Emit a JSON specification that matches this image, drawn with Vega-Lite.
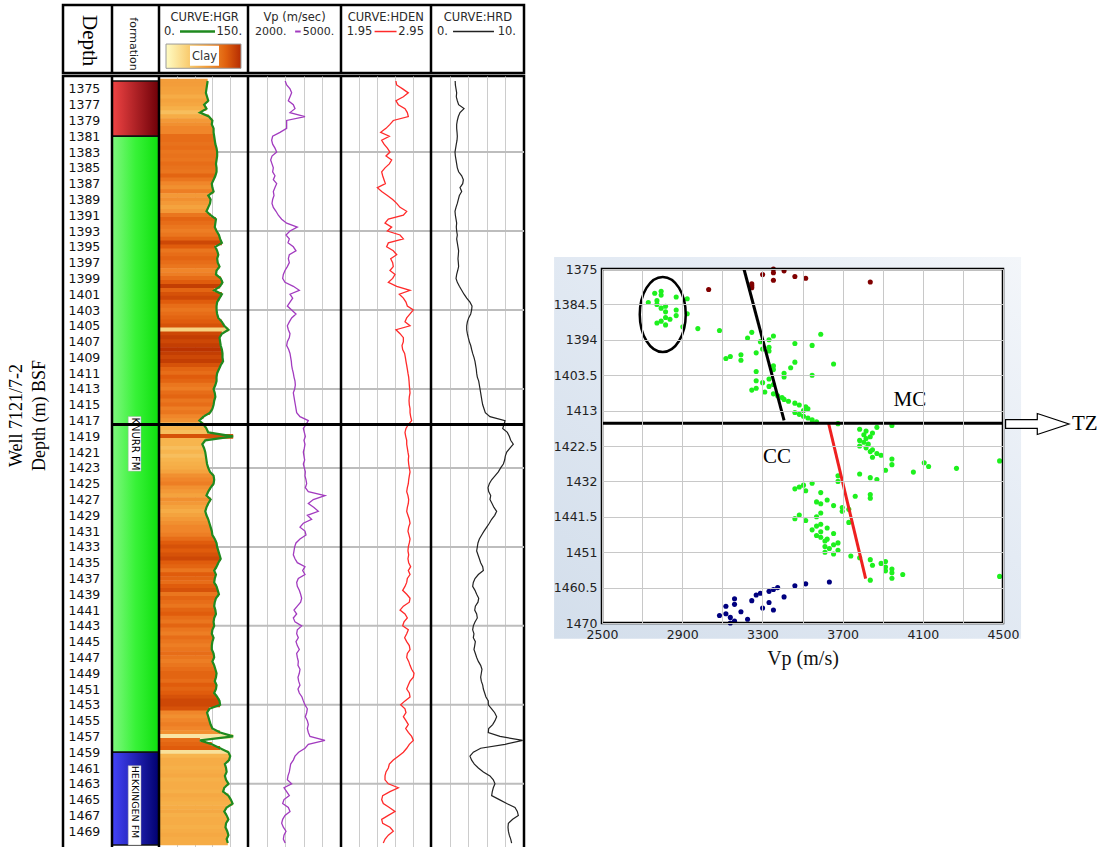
{
"$schema": "https://vega.github.io/schema/vega-lite/v6.json",
"padding": {"left": 5, "top": 2, "right": 0, "bottom": 0},
"autosize": {"type": "pad"},
"background": "white",
"spacing": 26,
"config": {"view": {"stroke": "black", "strokeWidth": 2.5}, "text": {"font": "DejaVu Sans"}, "axis": {"labelFont": "DejaVu Sans", "minExtent": 0}},
"datasets": {
"fm": [{"f":"a","top":1374,"base":1381},{"f":"k","top":1381,"base":1459},{"f":"h","top":1459,"base":1470.75}],
"gl": [{"y":1383},{"y":1393},{"y":1403},{"y":1413},{"y":1423},{"y":1433},{"y":1443},{"y":1453},{"y":1463}],
"logs": [
{"d":1374,"g":82,"v":3200,"n":2.56,"r":2.6,"c":0.38},
{"d":1374.5,"g":81,"v":3247,"n":2.568,"r":2.62,"c":0.38},
{"d":1375,"g":80,"v":3355,"n":2.635,"r":2.69,"c":0.36},
{"d":1375.5,"g":79,"v":3408,"n":2.698,"r":2.76,"c":0.35},
{"d":1376,"g":81,"v":3355,"n":2.643,"r":2.72,"c":0.3},
{"d":1376.5,"g":83,"v":3301,"n":2.561,"r":2.83,"c":0.35},
{"d":1377,"g":76,"v":3462,"n":2.587,"r":2.97,"c":0.33},
{"d":1377.5,"g":80,"v":3516,"n":2.661,"r":3.55,"c":0.28},
{"d":1378,"g":69,"v":3355,"n":2.687,"r":3.12,"c":0.22},
{"d":1378.5,"g":84,"v":3838,"n":2.698,"r":2.94,"c":0.3},
{"d":1379,"g":90,"v":3247,"n":2.531,"r":2.83,"c":0.4},
{"d":1379.5,"g":89,"v":3247,"n":2.494,"r":2.76,"c":0.45},
{"d":1380,"g":92,"v":3247,"n":2.45,"r":2.76,"c":0.5},
{"d":1380.5,"g":92,"v":3032,"n":2.391,"r":2.8,"c":0.5},
{"d":1381,"g":93,"v":2795,"n":2.487,"r":2.83,"c":0.65},
{"d":1381.5,"g":94,"v":2763,"n":2.402,"r":2.8,"c":0.65},
{"d":1382,"g":95,"v":2795,"n":2.428,"r":2.72,"c":0.62},
{"d":1382.5,"g":97,"v":2870,"n":2.465,"r":2.65,"c":0.65},
{"d":1383,"g":98,"v":2925,"n":2.494,"r":2.58,"c":0.6},
{"d":1383.5,"g":98,"v":2774,"n":2.45,"r":2.62,"c":0.62},
{"d":1384,"g":97,"v":2731,"n":2.513,"r":2.69,"c":0.6},
{"d":1384.5,"g":96,"v":2774,"n":2.487,"r":2.76,"c":0.65},
{"d":1385,"g":97,"v":2817,"n":2.439,"r":2.83,"c":0.62},
{"d":1385.5,"g":97,"v":2795,"n":2.402,"r":2.97,"c":0.6},
{"d":1386,"g":95,"v":2870,"n":2.413,"r":3.3,"c":0.7},
{"d":1386.5,"g":92,"v":2817,"n":2.428,"r":3.48,"c":0.6},
{"d":1387,"g":89,"v":2925,"n":2.443,"r":3.41,"c":0.5},
{"d":1387.5,"g":90,"v":2870,"n":2.354,"r":3.12,"c":0.45},
{"d":1388,"g":92,"v":2817,"n":2.402,"r":3.3,"c":0.55},
{"d":1388.5,"g":83,"v":2839,"n":2.465,"r":3.05,"c":0.4},
{"d":1389,"g":87,"v":2795,"n":2.524,"r":2.94,"c":0.45},
{"d":1389.5,"g":86,"v":2774,"n":2.569,"r":2.83,"c":0.4},
{"d":1390,"g":83,"v":2817,"n":2.606,"r":2.69,"c":0.35},
{"d":1390.5,"g":80,"v":2903,"n":2.68,"r":2.58,"c":0.4},
{"d":1391,"g":87,"v":2978,"n":2.643,"r":2.62,"c":0.6},
{"d":1391.5,"g":96,"v":3086,"n":2.476,"r":2.69,"c":0.7},
{"d":1392,"g":95,"v":3247,"n":2.439,"r":2.76,"c":0.65},
{"d":1392.5,"g":94,"v":3591,"n":2.513,"r":2.72,"c":0.6},
{"d":1393,"g":97,"v":3355,"n":2.465,"r":2.76,"c":0.55},
{"d":1393.5,"g":101,"v":3226,"n":2.606,"r":2.83,"c":0.6},
{"d":1394,"g":103,"v":3333,"n":2.643,"r":2.76,"c":0.7},
{"d":1394.5,"g":106,"v":3290,"n":2.476,"r":2.83,"c":0.85},
{"d":1395,"g":95,"v":3462,"n":2.457,"r":2.9,"c":0.75},
{"d":1395.5,"g":98,"v":3548,"n":2.531,"r":2.97,"c":0.6},
{"d":1396,"g":100,"v":3333,"n":2.569,"r":2.94,"c":0.65},
{"d":1396.5,"g":98,"v":3301,"n":2.502,"r":2.9,"c":0.7},
{"d":1397,"g":99,"v":3333,"n":2.524,"r":2.94,"c":0.65},
{"d":1397.5,"g":102,"v":3269,"n":2.531,"r":2.97,"c":0.6},
{"d":1398,"g":97,"v":3193,"n":2.494,"r":2.87,"c":0.5},
{"d":1398.5,"g":96,"v":3140,"n":2.55,"r":2.76,"c":0.55},
{"d":1399,"g":104,"v":3118,"n":2.524,"r":2.69,"c":0.65},
{"d":1399.5,"g":107,"v":3193,"n":2.476,"r":2.83,"c":0.75},
{"d":1400,"g":103,"v":3462,"n":2.569,"r":3.05,"c":0.9},
{"d":1400.5,"g":93,"v":3655,"n":2.717,"r":3.3,"c":0.7},
{"d":1401,"g":106,"v":3355,"n":2.598,"r":3.55,"c":0.8},
{"d":1401.5,"g":102,"v":3441,"n":2.643,"r":3.84,"c":0.85},
{"d":1402,"g":98,"v":3355,"n":2.672,"r":4.19,"c":0.75},
{"d":1402.5,"g":97,"v":3269,"n":2.687,"r":4.41,"c":0.65},
{"d":1403,"g":97,"v":3408,"n":2.754,"r":4.37,"c":0.6},
{"d":1403.5,"g":98,"v":3548,"n":2.717,"r":4.27,"c":0.65},
{"d":1404,"g":100,"v":3408,"n":2.68,"r":4.05,"c":0.7},
{"d":1404.5,"g":106,"v":3333,"n":2.661,"r":3.91,"c":0.75},
{"d":1405,"g":110,"v":3269,"n":2.717,"r":3.84,"c":0.8},
{"d":1405.5,"g":117,"v":3301,"n":2.561,"r":3.84,"c":0.15},
{"d":1406,"g":106,"v":3355,"n":2.606,"r":3.91,"c":0.85},
{"d":1406.5,"g":102,"v":3333,"n":2.643,"r":4.01,"c":0.9},
{"d":1407,"g":103,"v":3269,"n":2.643,"r":4.12,"c":0.85},
{"d":1407.5,"g":104,"v":3247,"n":2.628,"r":4.27,"c":0.9},
{"d":1408,"g":106,"v":3312,"n":2.635,"r":4.37,"c":0.95},
{"d":1408.5,"g":107,"v":3355,"n":2.657,"r":4.48,"c":0.9},
{"d":1409,"g":107,"v":3376,"n":2.665,"r":4.62,"c":0.85},
{"d":1409.5,"g":108,"v":3398,"n":2.672,"r":4.73,"c":0.9},
{"d":1410,"g":104,"v":3408,"n":2.68,"r":4.8,"c":0.8},
{"d":1410.5,"g":101,"v":3430,"n":2.687,"r":4.87,"c":0.7},
{"d":1411,"g":98,"v":3462,"n":2.694,"r":4.91,"c":0.65},
{"d":1411.5,"g":97,"v":3484,"n":2.702,"r":4.98,"c":0.75},
{"d":1412,"g":97,"v":3516,"n":2.706,"r":5.13,"c":0.7},
{"d":1412.5,"g":95,"v":3527,"n":2.709,"r":5.2,"c":0.6},
{"d":1413,"g":92,"v":3505,"n":2.713,"r":5.27,"c":0.55},
{"d":1413.5,"g":94,"v":3462,"n":2.717,"r":5.34,"c":0.65},
{"d":1414,"g":95,"v":3484,"n":2.709,"r":5.41,"c":0.7},
{"d":1414.5,"g":93,"v":3505,"n":2.706,"r":5.48,"c":0.6},
{"d":1415,"g":92,"v":3527,"n":2.709,"r":5.56,"c":0.65},
{"d":1415.5,"g":90,"v":3548,"n":2.717,"r":5.7,"c":0.55},
{"d":1416,"g":86,"v":3570,"n":2.717,"r":5.84,"c":0.6},
{"d":1416.5,"g":75,"v":3677,"n":2.724,"r":6.34,"c":0.5},
{"d":1417,"g":68,"v":3946,"n":2.735,"r":7.96,"c":0.45},
{"d":1417.5,"g":75,"v":3871,"n":2.698,"r":7.85,"c":0.3},
{"d":1418,"g":80,"v":3785,"n":2.672,"r":7.71,"c":0.25},
{"d":1418.5,"g":83,"v":3817,"n":2.661,"r":8.21,"c":0.22},
{"d":1419,"g":125,"v":3849,"n":2.669,"r":8.42,"c":0.8},
{"d":1419.5,"g":78,"v":3806,"n":2.68,"r":8.57,"c":0.25},
{"d":1420,"g":73,"v":3838,"n":2.68,"r":8.85,"c":0.25},
{"d":1420.5,"g":76,"v":3817,"n":2.687,"r":8.49,"c":0.22},
{"d":1421,"g":78,"v":3785,"n":2.694,"r":8.14,"c":0.25},
{"d":1421.5,"g":79,"v":3806,"n":2.702,"r":7.99,"c":0.22},
{"d":1422,"g":80,"v":3828,"n":2.698,"r":7.92,"c":0.25},
{"d":1422.5,"g":81,"v":3785,"n":2.702,"r":7.78,"c":0.28},
{"d":1423,"g":83,"v":3817,"n":2.709,"r":7.49,"c":0.3},
{"d":1423.5,"g":86,"v":3849,"n":2.717,"r":7.24,"c":0.35},
{"d":1424,"g":92,"v":3838,"n":2.709,"r":6.88,"c":0.45},
{"d":1424.5,"g":93,"v":3871,"n":2.702,"r":6.52,"c":0.5},
{"d":1425,"g":92,"v":3892,"n":2.698,"r":6.27,"c":0.55},
{"d":1425.5,"g":87,"v":3849,"n":2.687,"r":6.13,"c":0.45},
{"d":1426,"g":83,"v":3946,"n":2.68,"r":6.2,"c":0.4},
{"d":1426.5,"g":80,"v":4483,"n":2.694,"r":6.42,"c":0.35},
{"d":1427,"g":87,"v":4107,"n":2.702,"r":6.34,"c":0.45},
{"d":1427.5,"g":83,"v":3946,"n":2.698,"r":6.56,"c":0.4},
{"d":1428,"g":80,"v":4129,"n":2.687,"r":6.77,"c":0.35},
{"d":1428.5,"g":78,"v":4268,"n":2.68,"r":7.06,"c":0.3},
{"d":1429,"g":80,"v":3914,"n":2.694,"r":6.85,"c":0.35},
{"d":1429.5,"g":83,"v":4053,"n":2.709,"r":6.52,"c":0.4},
{"d":1430,"g":85,"v":3785,"n":2.717,"r":6.27,"c":0.45},
{"d":1430.5,"g":87,"v":3677,"n":2.702,"r":5.99,"c":0.5},
{"d":1431,"g":89,"v":3838,"n":2.694,"r":5.7,"c":0.5},
{"d":1431.5,"g":90,"v":3871,"n":2.706,"r":5.45,"c":0.55},
{"d":1432,"g":94,"v":3677,"n":2.717,"r":5.2,"c":0.65},
{"d":1432.5,"g":97,"v":3548,"n":2.709,"r":5.05,"c":0.75},
{"d":1433,"g":98,"v":3505,"n":2.698,"r":4.98,"c":0.8},
{"d":1433.5,"g":100,"v":3484,"n":2.694,"r":4.91,"c":0.75},
{"d":1434,"g":102,"v":3462,"n":2.702,"r":5.05,"c":0.8},
{"d":1434.5,"g":104,"v":3516,"n":2.694,"r":5.2,"c":0.85},
{"d":1435,"g":100,"v":3591,"n":2.702,"r":5.34,"c":0.75},
{"d":1435.5,"g":97,"v":3838,"n":2.724,"r":5.56,"c":0.7},
{"d":1436,"g":93,"v":3763,"n":2.698,"r":5.63,"c":0.6},
{"d":1436.5,"g":96,"v":3838,"n":2.717,"r":5.09,"c":0.75},
{"d":1437,"g":94,"v":3623,"n":2.687,"r":4.73,"c":0.7},
{"d":1437.5,"g":93,"v":3570,"n":2.68,"r":4.55,"c":0.65},
{"d":1438,"g":97,"v":3591,"n":2.661,"r":4.48,"c":0.75},
{"d":1438.5,"g":99,"v":3655,"n":2.635,"r":4.73,"c":0.8},
{"d":1439,"g":101,"v":3698,"n":2.68,"r":4.91,"c":0.6},
{"d":1439.5,"g":96,"v":3731,"n":2.717,"r":5.13,"c":0.7},
{"d":1440,"g":94,"v":3698,"n":2.709,"r":5.05,"c":0.65},
{"d":1440.5,"g":93,"v":3591,"n":2.643,"r":4.77,"c":0.6},
{"d":1441,"g":95,"v":3484,"n":2.606,"r":4.7,"c":0.7},
{"d":1441.5,"g":96,"v":3570,"n":2.661,"r":4.91,"c":0.75},
{"d":1442,"g":93,"v":3462,"n":2.687,"r":4.98,"c":0.65},
{"d":1442.5,"g":92,"v":3516,"n":2.65,"r":4.73,"c":0.6},
{"d":1443,"g":93,"v":3731,"n":2.635,"r":4.55,"c":0.7},
{"d":1443.5,"g":90,"v":3591,"n":2.698,"r":4.48,"c":0.6},
{"d":1444,"g":89,"v":3570,"n":2.68,"r":4.62,"c":0.55},
{"d":1444.5,"g":92,"v":3623,"n":2.657,"r":4.55,"c":0.65},
{"d":1445,"g":90,"v":3548,"n":2.68,"r":4.77,"c":0.6},
{"d":1445.5,"g":89,"v":3591,"n":2.709,"r":4.7,"c":0.55},
{"d":1446,"g":89,"v":3655,"n":2.717,"r":4.62,"c":0.6},
{"d":1446.5,"g":92,"v":3570,"n":2.687,"r":4.77,"c":0.65},
{"d":1447,"g":93,"v":3591,"n":2.68,"r":4.91,"c":0.6},
{"d":1447.5,"g":90,"v":3623,"n":2.702,"r":5.09,"c":0.55},
{"d":1448,"g":93,"v":3612,"n":2.717,"r":5.34,"c":0.6},
{"d":1448.5,"g":95,"v":3677,"n":2.735,"r":5.48,"c":0.65},
{"d":1449,"g":97,"v":3655,"n":2.761,"r":5.41,"c":0.7},
{"d":1449.5,"g":96,"v":3612,"n":2.754,"r":5.34,"c":0.7},
{"d":1450,"g":94,"v":3634,"n":2.717,"r":5.41,"c":0.65},
{"d":1450.5,"g":97,"v":3677,"n":2.698,"r":5.56,"c":0.75},
{"d":1451,"g":96,"v":3612,"n":2.68,"r":5.63,"c":0.7},
{"d":1451.5,"g":93,"v":3655,"n":2.709,"r":5.77,"c":0.75},
{"d":1452,"g":98,"v":3741,"n":2.717,"r":5.91,"c":0.8},
{"d":1452.5,"g":102,"v":3785,"n":2.661,"r":6.16,"c":0.85},
{"d":1453,"g":103,"v":3838,"n":2.613,"r":6.16,"c":0.85},
{"d":1453.5,"g":85,"v":3914,"n":2.661,"r":6.52,"c":0.8},
{"d":1454,"g":81,"v":3892,"n":2.672,"r":6.85,"c":0.5},
{"d":1454.5,"g":83,"v":3849,"n":2.643,"r":7.06,"c":0.45},
{"d":1455,"g":85,"v":3914,"n":2.672,"r":6.88,"c":0.5},
{"d":1455.5,"g":87,"v":3946,"n":2.698,"r":6.63,"c":0.55},
{"d":1456,"g":90,"v":3914,"n":2.669,"r":6.2,"c":0.5},
{"d":1456.5,"g":103,"v":3946,"n":2.698,"r":6.16,"c":0.45},
{"d":1457,"g":125,"v":4000,"n":2.735,"r":7.42,"c":0.08},
{"d":1457.5,"g":69,"v":4483,"n":2.754,"r":9.86,"c":0.65},
{"d":1458,"g":89,"v":3946,"n":2.709,"r":7.96,"c":0.7},
{"d":1458.5,"g":103,"v":3838,"n":2.68,"r":5.34,"c":0.75},
{"d":1459,"g":117,"v":3634,"n":2.643,"r":4.55,"c":0.1},
{"d":1459.5,"g":120,"v":3516,"n":2.587,"r":4.19,"c":0.25},
{"d":1460,"g":118,"v":3462,"n":2.531,"r":4.37,"c":0.3},
{"d":1460.5,"g":111,"v":3376,"n":2.487,"r":4.66,"c":0.3},
{"d":1461,"g":113,"v":3355,"n":2.476,"r":5.09,"c":0.28},
{"d":1461.5,"g":114,"v":3333,"n":2.45,"r":5.63,"c":0.3},
{"d":1462,"g":111,"v":3290,"n":2.439,"r":6.34,"c":0.32},
{"d":1462.5,"g":113,"v":3269,"n":2.439,"r":6.7,"c":0.28},
{"d":1463,"g":117,"v":3408,"n":2.476,"r":6.88,"c":0.3},
{"d":1463.5,"g":110,"v":3161,"n":2.587,"r":6.7,"c":0.3},
{"d":1464,"g":108,"v":3247,"n":2.494,"r":6.59,"c":0.28},
{"d":1464.5,"g":117,"v":3333,"n":2.413,"r":6.52,"c":0.32},
{"d":1465,"g":121,"v":3161,"n":2.402,"r":7.35,"c":0.3},
{"d":1465.5,"g":124,"v":3118,"n":2.42,"r":8.14,"c":0.28},
{"d":1466,"g":114,"v":3301,"n":2.487,"r":9.03,"c":0.3},
{"d":1466.5,"g":110,"v":3355,"n":2.55,"r":9.28,"c":0.32},
{"d":1467,"g":114,"v":3193,"n":2.476,"r":9.39,"c":0.28},
{"d":1467.5,"g":117,"v":3118,"n":2.402,"r":8.78,"c":0.3},
{"d":1468,"g":113,"v":3086,"n":2.413,"r":8.32,"c":0.3},
{"d":1468.5,"g":112,"v":3140,"n":2.494,"r":8.28,"c":0.28},
{"d":1469,"g":115,"v":3226,"n":2.531,"r":8.32,"c":0.3},
{"d":1469.5,"g":117,"v":3161,"n":2.476,"r":8.42,"c":0.32},
{"d":1470,"g":114,"v":3140,"n":2.44,"r":8.57,"c":0.3},
{"d":1470.5,"g":116,"v":3200,"n":2.42,"r":8.67,"c":0.3}
]
},
"hconcat": [
{
"spacing": -9,
"vconcat": [
{"width": 461, "height": 68, "data": {"values": [{}]},
 "resolve": {"scale": {"x": "independent"}, "axis": {"x": "independent"}},
 "layer": [
  {"mark": {"type": "text", "text": "Depth", "angle": 90, "font": "Liberation Serif", "fontSize": 21, "color": "#000"},
   "encoding": {"x": {"datum": 0.53, "type": "quantitative", "scale": {"domain": [0, 1], "range": [0, 49]}, "axis": null}, "y": {"datum": 5.25, "type": "quantitative", "scale": {"domain": [0, 10], "reverse": true}, "axis": null}}},
  {"layer": [
    {"mark": {"type": "text", "text": "formation", "angle": 90, "fontSize": 11, "color": "#222"},
     "encoding": {"x": {"datum": 0.45, "type": "quantitative", "scale": {"domain": [0, 1], "range": [49, 96]}, "axis": null}, "y": {"datum": 5.74, "axis": null}}},
    {"mark": {"type": "rule", "color": "black", "strokeWidth": 2.5}, "encoding": {"x": {"datum": 0, "axis": null}}}
  ]},
  {"layer": [
    {"mark": {"type": "text", "text": "CURVE:HGR", "fontSize": 11.5, "color": "#2a2a2a"},
     "encoding": {"x": {"datum": 77, "type": "quantitative", "scale": {"domain": [0, 150], "range": [96, 185], "nice": false, "zero": false}, "axis": null}, "y": {"datum": 1.9, "axis": null}}},
    {"mark": {"type": "text", "text": "0.", "align": "left", "fontSize": 11.5, "color": "#2a2a2a"},
     "encoding": {"x": {"datum": 8.4, "axis": null}, "y": {"datum": 3.9, "axis": null}}},
    {"mark": {"type": "text", "text": "150.", "align": "right", "fontSize": 11.5, "color": "#2a2a2a"},
     "encoding": {"x": {"datum": 140, "axis": null}, "y": {"datum": 3.9, "axis": null}}},
    {"mark": {"type": "rule", "color": "#1f8a1f", "strokeWidth": 2.5},
     "encoding": {"x": {"datum": 35.4, "axis": null}, "x2": {"datum": 94.4}, "y": {"datum": 3.9, "axis": null}}},
    {"mark": {"type": "rect", "stroke": "#9a9a9a", "strokeWidth": 1, "color": {"gradient": "linear", "stops": [{"offset": 0, "color": "#fffcc4"}, {"offset": 0.3, "color": "#f9cd72"}, {"offset": 0.55, "color": "#f39a34"}, {"offset": 0.8, "color": "#e0600e"}, {"offset": 1, "color": "#b52c02"}]}},
     "encoding": {"x": {"datum": 11.8, "axis": null}, "x2": {"datum": 138.2}, "y": {"datum": 5.74, "axis": null}, "y2": {"datum": 9.31}}},
    {"mark": {"type": "rect", "color": "white"},
     "encoding": {"x": {"datum": 52.2, "axis": null}, "x2": {"datum": 101.1}, "y": {"datum": 5.98, "axis": null}, "y2": {"datum": 8.93}}},
    {"mark": {"type": "text", "text": "Clay", "fontSize": 11.5, "color": "#333"},
     "encoding": {"x": {"datum": 76.6, "axis": null}, "y": {"datum": 7.6, "axis": null}}},
    {"mark": {"type": "rule", "color": "black", "strokeWidth": 2.5}, "encoding": {"x": {"datum": 0, "axis": null}}}
  ]},
  {"layer": [
    {"mark": {"type": "text", "text": "Vp (m/sec)", "fontSize": 11.5, "color": "#2a2a2a"},
     "encoding": {"x": {"datum": 3500, "type": "quantitative", "scale": {"domain": [2000, 5000], "range": [185, 278], "nice": false, "zero": false}, "axis": null}, "y": {"datum": 1.9, "axis": null}}},
    {"mark": {"type": "text", "text": "2000.", "align": "left", "fontSize": 11, "color": "#2a2a2a"},
     "encoding": {"x": {"datum": 2226, "axis": null}, "y": {"datum": 3.9, "axis": null}}},
    {"mark": {"type": "text", "text": "5000.", "align": "right", "fontSize": 11, "color": "#2a2a2a"},
     "encoding": {"x": {"datum": 4780, "axis": null}, "y": {"datum": 3.9, "axis": null}}},
    {"mark": {"type": "rule", "color": "#a23bbf", "strokeWidth": 2},
     "encoding": {"x": {"datum": 3520, "axis": null}, "x2": {"datum": 3700}, "y": {"datum": 3.9, "axis": null}}},
    {"mark": {"type": "rule", "color": "black", "strokeWidth": 2.5}, "encoding": {"x": {"datum": 2000, "axis": null}}}
  ]},
  {"layer": [
    {"mark": {"type": "text", "text": "CURVE:HDEN", "fontSize": 11.5, "color": "#2a2a2a"},
     "encoding": {"x": {"datum": 2.447, "type": "quantitative", "scale": {"domain": [1.95, 2.95], "range": [278, 368], "nice": false, "zero": false}, "axis": null}, "y": {"datum": 1.9, "axis": null}}},
    {"mark": {"type": "text", "text": "1.95", "align": "left", "fontSize": 11.5, "color": "#2a2a2a"},
     "encoding": {"x": {"datum": 2.013, "axis": null}, "y": {"datum": 3.9, "axis": null}}},
    {"mark": {"type": "text", "text": "2.95", "align": "right", "fontSize": 11.5, "color": "#2a2a2a"},
     "encoding": {"x": {"datum": 2.872, "axis": null}, "y": {"datum": 3.9, "axis": null}}},
    {"mark": {"type": "rule", "color": "#ff2a2a", "strokeWidth": 1.5},
     "encoding": {"x": {"datum": 2.323, "axis": null}, "x2": {"datum": 2.567}, "y": {"datum": 3.9, "axis": null}}},
    {"mark": {"type": "rule", "color": "black", "strokeWidth": 2.5}, "encoding": {"x": {"datum": 1.95, "axis": null}}}
  ]},
  {"layer": [
    {"mark": {"type": "text", "text": "CURVE:HRD", "fontSize": 11.5, "color": "#2a2a2a"},
     "encoding": {"x": {"datum": 5.05, "type": "quantitative", "scale": {"domain": [0, 10], "range": [368, 461], "nice": false, "zero": false}, "axis": null}, "y": {"datum": 1.9, "axis": null}}},
    {"mark": {"type": "text", "text": "0.", "align": "left", "fontSize": 11.5, "color": "#2a2a2a"},
     "encoding": {"x": {"datum": 0.65, "axis": null}, "y": {"datum": 3.9, "axis": null}}},
    {"mark": {"type": "text", "text": "10.", "align": "right", "fontSize": 11.5, "color": "#2a2a2a"},
     "encoding": {"x": {"datum": 9.14, "axis": null}, "y": {"datum": 3.9, "axis": null}}},
    {"mark": {"type": "rule", "color": "#222", "strokeWidth": 1.5},
     "encoding": {"x": {"datum": 2.37, "axis": null}, "x2": {"datum": 6.77}, "y": {"datum": 3.9, "axis": null}}},
    {"mark": {"type": "rule", "color": "black", "strokeWidth": 2.5}, "encoding": {"x": {"datum": 0, "axis": null}}}
  ]}
 ]},
{"width": 461, "height": 774,
 "resolve": {"scale": {"x": "independent"}, "axis": {"x": "independent"}},
 "layer": [
  {"data": {"name": "logs"}, "mark": {"type": "point", "opacity": 0},
   "encoding": {"y": {"field": "d", "type": "quantitative", "scale": {"domain": [1374, 1470.75], "reverse": true, "nice": false, "zero": false},
     "axis": {"values": [1375,1377,1379,1381,1383,1385,1387,1389,1391,1393,1395,1397,1399,1401,1403,1405,1407,1409,1411,1413,1415,1417,1419,1421,1423,1425,1427,1429,1431,1433,1435,1437,1439,1441,1443,1445,1447,1449,1451,1453,1455,1457,1459,1461,1463,1465,1467,1469],
       "tickCount": 100, "format": "d", "orient": "left", "labelAlign": "left", "labelBaseline": "middle", "labelPadding": -5, "tickSize": 0, "ticks": false, "domain": false, "grid": false,
       "labelFontSize": 12.5, "labelColor": "#111", "labelOverlap": false, "labelBound": false,
       "title": ["Well 7121/7-2", "Depth (m) BSF"], "titleFont": "Liberation Serif", "titleFontSize": 18, "titleFontWeight": "normal", "titleColor": "#000",
       "titlePadding": 15, "titleLineHeight": 23, "minExtent": 0, "maxExtent": 0, "titleY": 339}}}},
  {"layer": [
    {"data": {"name": "fm"}, "transform": [{"filter": "datum.f == 'a'"}],
     "mark": {"type": "rect", "stroke": "#111", "strokeWidth": 1.5, "color": {"gradient": "linear", "stops": [{"offset": 0, "color": "#f04444"}, {"offset": 1, "color": "#6e0008"}]}},
     "encoding": {"y": {"field": "top", "type": "quantitative"}, "y2": {"field": "base"},
       "x": {"datum": 0, "type": "quantitative", "scale": {"domain": [0, 1], "range": [49, 96]}, "axis": null}, "x2": {"datum": 1}}},
    {"data": {"name": "fm"}, "transform": [{"filter": "datum.f == 'k'"}],
     "mark": {"type": "rect", "stroke": "#111", "strokeWidth": 1.5, "color": {"gradient": "linear", "stops": [{"offset": 0, "color": "#80f880"}, {"offset": 0.5, "color": "#38f238"}, {"offset": 1, "color": "#0ee00e"}]}},
     "encoding": {"y": {"field": "top", "type": "quantitative"}, "y2": {"field": "base"}, "x": {"datum": 0, "axis": null}, "x2": {"datum": 1}}},
    {"data": {"name": "fm"}, "transform": [{"filter": "datum.f == 'h'"}],
     "mark": {"type": "rect", "stroke": "#111", "strokeWidth": 1.5, "color": {"gradient": "linear", "stops": [{"offset": 0, "color": "#4444f8"}, {"offset": 1, "color": "#00006e"}]}},
     "encoding": {"y": {"field": "top", "type": "quantitative"}, "y2": {"field": "base"}, "x": {"datum": 0, "axis": null}, "x2": {"datum": 1}}},
    {"data": {"values": [{}]}, "mark": {"type": "rect", "color": "white", "stroke": "#aaa", "strokeWidth": 0.5},
     "encoding": {"x": {"datum": 0.345, "axis": null}, "x2": {"datum": 0.617}, "y": {"datum": 1416.5}, "y2": {"datum": 1423.4}}},
    {"data": {"values": [{}]}, "mark": {"type": "text", "text": "KNURR FM", "angle": 90, "fontSize": 10, "color": "#000"},
     "encoding": {"x": {"datum": 0.48, "axis": null}, "y": {"datum": 1419.95}}},
    {"data": {"values": [{}]}, "mark": {"type": "rect", "color": "white", "stroke": "#aaa", "strokeWidth": 0.5},
     "encoding": {"x": {"datum": 0.345, "axis": null}, "x2": {"datum": 0.617}, "y": {"datum": 1460.7}, "y2": {"datum": 1470.75}}},
    {"data": {"values": [{}]}, "mark": {"type": "text", "text": "HEKKINGEN FM", "angle": 90, "fontSize": 9.5, "color": "#000"},
     "encoding": {"x": {"datum": 0.48, "axis": null}, "y": {"datum": 1465.3}}},
    {"data": {"values": [{}]}, "mark": {"type": "rule", "color": "black", "strokeWidth": 2.5}, "encoding": {"x": {"datum": 0, "axis": null}}}
  ]},
  {"layer": [
    {"data": {"name": "gl"}, "mark": {"type": "rule", "color": "#bdbdbd", "strokeWidth": 2},
     "encoding": {"y": {"field": "y", "type": "quantitative"}, "x": {"datum": 0, "type": "quantitative", "scale": {"domain": [0, 150], "range": [96, 185], "nice": false, "zero": false},
       "axis": {"values": [30, 60, 90, 120], "tickCount": 20, "grid": true, "labels": false, "ticks": false, "domain": false, "title": null, "orient": "top", "gridColor": "#cccccc", "gridWidth": 1, "maxExtent": 0}}, "x2": {"datum": 150}}},
    {"data": {"name": "logs"}, "mark": {"type": "bar", "orient": "horizontal", "size": 4.6, "clip": true},
     "encoding": {"x": {"field": "g", "type": "quantitative", "stack": null}, "y": {"field": "d", "type": "quantitative"},
       "color": {"field": "c", "type": "quantitative", "scale": {"domain": [0, 0.25, 0.5, 0.75, 1], "range": ["#fff8d0", "#f7b54e", "#f0862a", "#e05c0c", "#b02800"]}, "legend": null}}},
    {"data": {"name": "logs"}, "mark": {"type": "line", "color": "#1f8a1f", "strokeWidth": 2.2, "clip": true},
     "encoding": {"x": {"field": "g", "type": "quantitative"}, "y": {"field": "d", "type": "quantitative"}, "order": {"field": "d", "type": "quantitative"}}},
    {"data": {"values": [{}]}, "mark": {"type": "rule", "color": "black", "strokeWidth": 2.5}, "encoding": {"x": {"datum": 0}}}
  ]},
  {"layer": [
    {"data": {"name": "gl"}, "mark": {"type": "rule", "color": "#bdbdbd", "strokeWidth": 2},
     "encoding": {"y": {"field": "y", "type": "quantitative"}, "x": {"datum": 2000, "type": "quantitative", "scale": {"domain": [2000, 5000], "range": [185, 278], "nice": false, "zero": false},
       "axis": {"values": [2600, 3200, 3800, 4400], "tickCount": 20, "grid": true, "labels": false, "ticks": false, "domain": false, "title": null, "orient": "top", "gridColor": "#cccccc", "gridWidth": 1, "maxExtent": 0}}, "x2": {"datum": 5000}}},
    {"data": {"name": "logs"}, "mark": {"type": "line", "color": "#a23bbf", "strokeWidth": 1.3, "clip": true},
     "encoding": {"x": {"field": "v", "type": "quantitative"}, "y": {"field": "d", "type": "quantitative"}, "order": {"field": "d", "type": "quantitative"}}},
    {"data": {"values": [{}]}, "mark": {"type": "rule", "color": "black", "strokeWidth": 2.5}, "encoding": {"x": {"datum": 2000}}}
  ]},
  {"layer": [
    {"data": {"name": "gl"}, "mark": {"type": "rule", "color": "#bdbdbd", "strokeWidth": 2},
     "encoding": {"y": {"field": "y", "type": "quantitative"}, "x": {"datum": 1.95, "type": "quantitative", "scale": {"domain": [1.95, 2.95], "range": [278, 368], "nice": false, "zero": false},
       "axis": {"values": [2.15, 2.35, 2.55, 2.75], "tickCount": 20, "grid": true, "labels": false, "ticks": false, "domain": false, "title": null, "orient": "top", "gridColor": "#cccccc", "gridWidth": 1, "maxExtent": 0}}, "x2": {"datum": 2.95}}},
    {"data": {"name": "logs"}, "mark": {"type": "line", "color": "#ff2a2a", "strokeWidth": 1.3, "clip": true},
     "encoding": {"x": {"field": "n", "type": "quantitative"}, "y": {"field": "d", "type": "quantitative"}, "order": {"field": "d", "type": "quantitative"}}},
    {"data": {"values": [{}]}, "mark": {"type": "rule", "color": "black", "strokeWidth": 2.5}, "encoding": {"x": {"datum": 1.95}}}
  ]},
  {"layer": [
    {"data": {"name": "gl"}, "mark": {"type": "rule", "color": "#bdbdbd", "strokeWidth": 2},
     "encoding": {"y": {"field": "y", "type": "quantitative"}, "x": {"datum": 0, "type": "quantitative", "scale": {"domain": [0, 10], "range": [368, 461], "nice": false, "zero": false},
       "axis": {"values": [2, 4, 6, 8], "tickCount": 20, "grid": true, "labels": false, "ticks": false, "domain": false, "title": null, "orient": "top", "gridColor": "#cccccc", "gridWidth": 1, "maxExtent": 0}}, "x2": {"datum": 10}}},
    {"data": {"name": "logs"}, "mark": {"type": "line", "color": "#222222", "strokeWidth": 1.2, "clip": true},
     "encoding": {"x": {"field": "r", "type": "quantitative"}, "y": {"field": "d", "type": "quantitative"}, "order": {"field": "d", "type": "quantitative"}}},
    {"data": {"values": [{}]}, "mark": {"type": "rule", "color": "black", "strokeWidth": 2.5}, "encoding": {"x": {"datum": 0}}}
  ]},
  {"data": {"values": [{}]}, "mark": {"type": "rule", "color": "black", "strokeWidth": 3},
   "encoding": {"x": {"datum": 0, "type": "quantitative", "scale": {"domain": [0, 1], "range": [49, 461]}, "axis": null}, "x2": {"datum": 1}, "y": {"datum": 1417.5}}}
 ]}
]
},
{
"spacing": 9,
"vconcat": [
{"width": 401, "height": 243, "view": {"stroke": null}, "data": {"values": [{}]}, "mark": {"type": "text", "text": " "}, "encoding": {}},
{"width": 401, "height": 354, "view": {"stroke": null},
 "layer": [
  {"data": {"values": [{}]},
   "mark": {"type": "rect", "color": {"gradient": "linear", "x1": 0, "y1": 1, "x2": 1, "y2": 0, "stops": [{"offset": 0, "color": "#d3deeb"}, {"offset": 0.6, "color": "#e4ebf4"}, {"offset": 1, "color": "#f3f6fa"}]}},
   "encoding": {
     "x": {"datum": 2261, "type": "quantitative", "scale": {"domain": [2500, 4500], "nice": false, "zero": false},
       "axis": {"values": [2500,2700,2900,3100,3300,3500,3700,3900,4100,4300,4500], "tickCount": 30, "labelExpr": "datum.value % 400 == 100 ? datum.label : ''", "format": "d",
         "grid": true, "gridColor": "#c8c8c8", "gridWidth": 1, "ticks": false, "domain": false, "labelFontSize": 12.5, "labelColor": "#222", "labelPadding": 5,
         "labelFlush": false, "labelOverlap": false, "labelBound": false, "title": "Vp (m/s)", "titleFont": "Liberation Serif", "titleFontSize": 20, "titleFontWeight": "normal",
         "titleColor": "#111", "titlePadding": 8, "zindex": 1}},
     "x2": {"datum": 4590},
     "y": {"datum": 1371.8, "type": "quantitative", "scale": {"domain": [1375, 1470], "reverse": true, "nice": false, "zero": false},
       "axis": {"values": [1375,1384.5,1394,1403.5,1413,1422.5,1432,1441.5,1451,1460.5,1470], "tickCount": 30, "format": ".1~f", "grid": true, "gridColor": "#c8c8c8", "gridWidth": 1,
         "ticks": false, "domain": false, "labelFontSize": 12.5, "labelColor": "#222", "labelPadding": 5, "labelOverlap": false, "labelBound": false, "labelFlush": false, "title": null, "zindex": 1}},
     "y2": {"datum": 1474.2}}},
  {"data": {"values": [{}]}, "mark": {"type": "rect", "color": "white"},
   "encoding": {"x": {"datum": 2500}, "x2": {"datum": 4500}, "y": {"datum": 1375}, "y2": {"datum": 1470}}},
  {"data": {"name": "logs"}, "transform": [{"filter": {"field": "d", "range": [1375, 1380.9]}}],
   "mark": {"type": "circle", "size": 26, "opacity": 1, "color": "#800000", "zindex": 2},
   "encoding": {"x": {"field": "v", "type": "quantitative"}, "y": {"field": "d", "type": "quantitative"}}},
  {"data": {"name": "logs"}, "transform": [{"filter": {"field": "d", "range": [1381, 1458.9]}}],
   "mark": {"type": "circle", "size": 26, "opacity": 1, "color": "#1ef01e", "zindex": 2},
   "encoding": {"x": {"field": "v", "type": "quantitative"}, "y": {"field": "d", "type": "quantitative"}}},
  {"data": {"name": "logs"}, "transform": [{"filter": {"field": "d", "range": [1459, 1470]}}],
   "mark": {"type": "circle", "size": 26, "opacity": 1, "color": "#00007f", "zindex": 2},
   "encoding": {"x": {"field": "v", "type": "quantitative"}, "y": {"field": "d", "type": "quantitative"}}},
  {"data": {"values": [{}]}, "mark": {"type": "rule", "color": "black", "strokeWidth": 3, "zindex": 2},
   "encoding": {"x": {"datum": 3208}, "x2": {"datum": 3408}, "y": {"datum": 1375}, "y2": {"datum": 1415.6}}},
  {"data": {"values": [{}]}, "mark": {"type": "rule", "color": "#ee2020", "strokeWidth": 3, "zindex": 2},
   "encoding": {"x": {"datum": 3630}, "x2": {"datum": 3815}, "y": {"datum": 1416.4}, "y2": {"datum": 1458.1}}},
  {"data": {"values": [{}]}, "mark": {"type": "rule", "color": "black", "strokeWidth": 3, "zindex": 2},
   "encoding": {"x": {"datum": 2500}, "x2": {"datum": 4500}, "y": {"datum": 1416.4}}},
  {"data": {"values": [{}]}, "mark": {"type": "rect", "filled": false, "color": "black", "strokeWidth": 2.5, "zindex": 2},
   "encoding": {"x": {"datum": 2500}, "x2": {"datum": 4500}, "y": {"datum": 1375}, "y2": {"datum": 1470}}},
  {"data": {"values": [{}]}, "mark": {"type": "point", "shape": "M -0.613 0 A 0.613 1 0 1 0 0.613 0 A 0.613 1 0 1 0 -0.613 0 Z", "size": 5625, "filled": false, "color": "black", "strokeWidth": 2.5, "opacity": 1, "zindex": 2},
   "encoding": {"x": {"datum": 2803}, "y": {"datum": 1387.2}}},
  {"data": {"values": [{}]}, "mark": {"type": "point", "shape": "M -1 -0.14 L 0 -0.14 L 0 -0.33 L 1 0 L 0 0.33 L 0 0.14 L -1 0.14 Z", "size": 4019, "filled": true, "color": "white", "stroke": "black", "strokeWidth": 1.2, "opacity": 1, "zindex": 2},
   "encoding": {"x": {"datum": 4671}, "y": {"datum": 1416.6}}},
  {"data": {"values": [{}]}, "mark": {"type": "text", "text": "MC", "font": "Liberation Serif", "fontSize": 21, "color": "#000", "zindex": 2},
   "encoding": {"x": {"datum": 4036}, "y": {"datum": 1410.2}}},
  {"data": {"values": [{}]}, "mark": {"type": "text", "text": "CC", "font": "Liberation Serif", "fontSize": 21, "color": "#000", "zindex": 2},
   "encoding": {"x": {"datum": 3373}, "y": {"datum": 1425.5}}},
  {"data": {"values": [{}]}, "mark": {"type": "text", "text": "TZ", "align": "left", "font": "Liberation Serif", "fontSize": 21, "color": "#000", "zindex": 2},
   "encoding": {"x": {"datum": 4844}, "y": {"datum": 1416.6}}}
 ]}
]
}
]
}
